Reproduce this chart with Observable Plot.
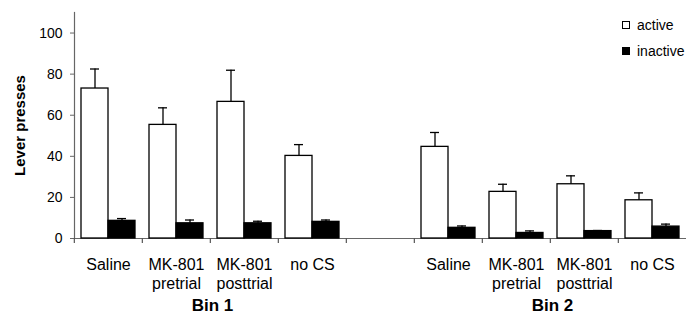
<!DOCTYPE html>
<html>
<head>
<meta charset="utf-8">
<script src="https://cdn.jsdelivr.net/npm/d3@7"></script>
<script src="https://cdn.jsdelivr.net/npm/@observablehq/plot@0.6"></script>
<style>
  html, body { margin: 0; padding: 0; background: white; }
  #wrap { position: relative; width: 687px; height: 316px; font-family: 'Liberation Sans', Arial, sans-serif; }
  #legend { position: absolute; left: 622px; top: 12px; font-size: 14px; color: black; }
  #legend .item { display: flex; align-items: center; height: 26px; white-space: nowrap; }
  #legend .sw { width: 6px; height: 6px; border: 1px solid black; margin-right: 7px; box-sizing: content-box; }
</style>
</head>
<body>
<div id="wrap"></div>
<script>
// ---- data ----
const categories = ["Saline", "MK-801\npretrial", "MK-801\nposttrial", "no CS"];
const bins = ["Bin 1", "Bin 2"];
const series = ["active", "inactive"];
const bin1Active = [73.0, 55.3, 66.5, 40.2];
const bin1ActiveSem = [9.5, 8.3, 15.4, 5.5];
const bin1Inactive = [8.6, 7.4, 7.4, 8.1];
const bin1InactiveSem = [1.1, 1.6, 1.0, 0.9];
const bin2Active = [44.6, 22.7, 26.4, 18.6];
const bin2ActiveSem = [7.0, 3.7, 4.1, 3.6];
const bin2Inactive = [5.2, 2.7, 3.6, 5.8];
const bin2InactiveSem = [0.9, 1.0, 0.3, 1.2];
const yTicks = [0, 20, 40, 60, 80, 100];
const yLabel = "Lever presses";

// ---- build tidy table ----
const slotKey = (b, c) => b + "|" + c;
const gapKey = "gap";
const slots = [
  ...categories.map(c => slotKey(bins[0], c)),
  gapKey,
  ...categories.map(c => slotKey(bins[1], c))
];
const values = {
  "Bin 1": {active: [bin1Active, bin1ActiveSem], inactive: [bin1Inactive, bin1InactiveSem]},
  "Bin 2": {active: [bin2Active, bin2ActiveSem], inactive: [bin2Inactive, bin2InactiveSem]}
};
const rows = [];
for (const b of bins) for (const s of series) categories.forEach((c, i) => {
  rows.push({slot: slotKey(b, c), series: s, value: values[b][s][0][i], sem: values[b][s][1][i]});
});
// the empty spacer group between the two bins (no values)
rows.push({slot: gapKey, series: series[0], value: null, sem: null});

const labelOf = k => k === gapKey ? "" : k.split("|")[1];
// bin titles sit at the left edge of the third group of each bin (centre of the four groups)
const binTitles = bins.map(b => ({bin: b, slot: slotKey(b, categories[2])}));

const step = 615 / slots.length;

const chart = Plot.plot({
  width: 687,
  height: 316,
  marginLeft: 72,
  marginRight: 0,
  marginTop: 12,
  marginBottom: 78,
  style: {fontFamily: "'Liberation Sans', Arial, sans-serif", fontSize: "14px", color: "black", background: "white"},
  fx: {domain: slots, padding: 0, axis: null},
  x: {domain: series, paddingInner: 0, paddingOuter: 0.24, axis: null},
  y: {domain: [0, 110], axis: null},
  color: {domain: series, range: ["white", "black"]},
  marks: [
    Plot.ruleY([0], {stroke: "#666", strokeWidth: 1.2}),
    Plot.frame({anchor: "left", facetAnchor: "left", stroke: "#666", strokeWidth: 1.2}),
    Plot.axisY({ticks: yTicks, tickSize: 4, tickPadding: 8, fontSize: 14, stroke: "#666", label: null}),
    Plot.axisY({ticks: [], tickSize: 0, label: yLabel, labelArrow: "none", labelAnchor: "center", labelOffset: 60, fontSize: 15, fontWeight: "bold"}),
    Plot.axisFx({anchor: "bottom", tickSize: 5, tickFormat: () => "", dx: -step / 2, stroke: "#555", strokeWidth: 1.2, label: null}),
    Plot.axisFx({anchor: "bottom", tickSize: 0, tickPadding: 18, tickFormat: labelOf, fontSize: 16, lineHeight: 1.2, label: null}),
    Plot.barY(rows, {fx: "slot", x: "series", y: "value", fill: "series", stroke: "black", strokeWidth: 1.3}),
    Plot.ruleX(rows, {fx: "slot", x: "series", y1: "value", y2: d => d.value == null ? null : d.value + d.sem, stroke: "black", strokeWidth: 1.3}),
    Plot.tickY(rows, {fx: "slot", x: "series", y: d => d.value == null ? null : d.value + d.sem, insetLeft: 9, insetRight: 9, stroke: "black", strokeWidth: 1.3}),
    Plot.text(binTitles, {fx: "slot", text: "bin", frameAnchor: "bottom-left", textAnchor: "middle", lineAnchor: "middle", dx: 2, dy: 67, fontSize: 17, fontWeight: "bold"})
  ]
});

const wrap = document.getElementById("wrap");
wrap.appendChild(chart);
const legend = document.createElement("div");
legend.id = "legend";
series.forEach((s, i) => {
  const item = document.createElement("div");
  item.className = "item";
  const sw = document.createElement("span");
  sw.className = "sw";
  sw.style.background = i === 0 ? "white" : "black";
  item.appendChild(sw);
  item.appendChild(document.createTextNode(s));
  legend.appendChild(item);
});
wrap.appendChild(legend);
</script>
</body>
</html>
